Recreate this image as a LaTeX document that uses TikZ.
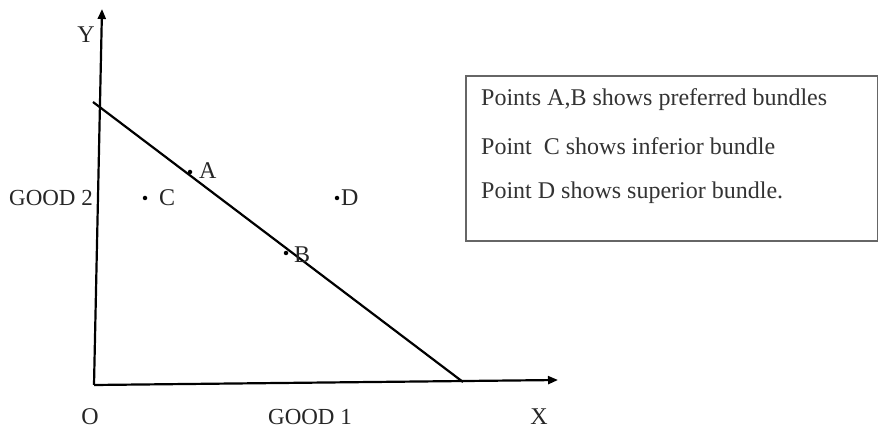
\documentclass[tikz,border=0pt]{standalone}
\usepackage{fontspec}
\setmainfont{Liberation Serif}
\usetikzlibrary{arrows.meta}
\begin{document}
\begin{tikzpicture}[x=1pt,y=-1pt,
  axis/.style={line width=2.2pt,-{Triangle[length=10pt,width=8pt]}},
  bline/.style={line width=2.2pt},
  dot/.style={circle,fill=black,inner sep=0pt,minimum size=4.5pt},
  lbl/.style={font=\fontsize{24}{26}\selectfont,inner sep=0pt,text=black!85},
  axlbl/.style={font=\fontsize{23}{26}\selectfont,inner sep=0pt,text=black!85},
  note/.style={font=\fontsize{24}{28}\selectfont,inner sep=0pt,anchor=west,text=black!80}]
\useasboundingbox (0,0) rectangle (878,430);
\coordinate (O) at (94,385);
\coordinate (Ytop) at (102,9);
\coordinate (Xend) at (558,380);
\coordinate (L1) at (93,102);
\coordinate (L2) at (463,382);
\draw[axis] (O) -- (Ytop);
\draw[axis] (O) -- (Xend);
\draw[bline] (L1) -- (L2);
% points
\node[dot] (pA) at (190,172) {};
\node[lbl,anchor=west] (lA) at (199,171) {A};
\node[dot] (pC) at (145,198) {};
\node[lbl,anchor=west] (lC) at (159,198) {C};
\node[dot] (pD) at (337,198) {};
\node[lbl,anchor=west] (lD) at (341,198) {D};
\node[dot] (pB) at (286,253) {};
\node[lbl,anchor=west] (lB) at (294,255) {B};
% axis labels
\node[lbl] (ly) at (86,35) {Y};
\node[lbl,anchor=base] (lo) at (90,424) {O};
\node[lbl,anchor=base] (lx) at (539,424) {X};
\node[axlbl,anchor=base] (g1) at (310,424) {GOOD 1};
\node[axlbl] (g2) at (51,198) {GOOD 2};
% legend box
\node[draw=black!60,line width=1.8pt,inner sep=0pt,minimum width=412pt,minimum height=165pt,anchor=north west] (box) at (465,75) {};
\node[note] (n1) at (481,100) {Points A,B shows preferred bundles};
\node[note] (n2) at (481,146) {Point\ \ C shows inferior bundle};
\node[note] (n3) at (481,193) {Point D shows superior bundle.};
\end{tikzpicture}
\end{document}
